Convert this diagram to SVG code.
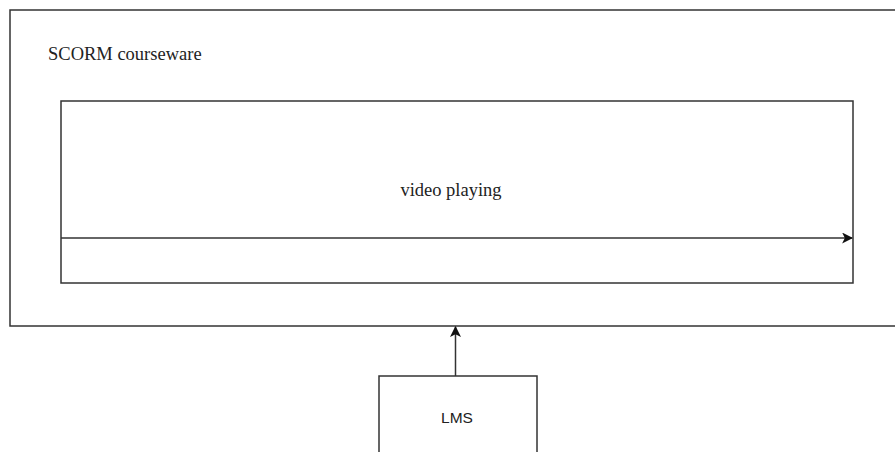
<svg xmlns="http://www.w3.org/2000/svg" width="895" height="452" viewBox="0 0 895 452">
  <style>
    .box { fill: #ffffff; stroke: #333333; stroke-width: 1.5; }
    .edge { fill: none; stroke: #333333; stroke-width: 1.5; }
    .serif { font-family: "Liberation Serif", "Times New Roman", serif; font-size: 18.5px; fill: #222222; }
    .sans { font-family: "Liberation Sans", Arial, sans-serif; font-size: 15.5px; fill: #222222; }
  </style>
  <defs>
    <marker id="arrow" viewBox="0 0 10 10" refX="9" refY="5" markerWidth="11" markerHeight="11" markerUnits="userSpaceOnUse" orient="auto">
      <path d="M0,0 L10,5 L0,10 L2.5,5 Z" fill="#111111"/>
    </marker>
  </defs>
  <rect width="895" height="452" fill="#ffffff"/>
  <g id="scorm">
    <rect class="box" x="10" y="10" width="900" height="316"/>
    <text class="serif" x="48" y="60">SCORM courseware</text>
  </g>
  <g id="video">
    <rect class="box" x="61" y="101" width="792" height="182"/>
    <text class="serif" x="451" y="196" text-anchor="middle">video playing</text>
  </g>
  <g id="lms">
    <rect class="box" x="379" y="376" width="158" height="90"/>
    <text class="sans" x="457" y="423" text-anchor="middle">LMS</text>
  </g>
  <g id="connectors">
    <path class="edge" d="M61,238 L852,238" marker-end="url(#arrow)"/>
    <path class="edge" d="M455.5,376 L455.5,327" marker-end="url(#arrow)"/>
  </g>
</svg>
